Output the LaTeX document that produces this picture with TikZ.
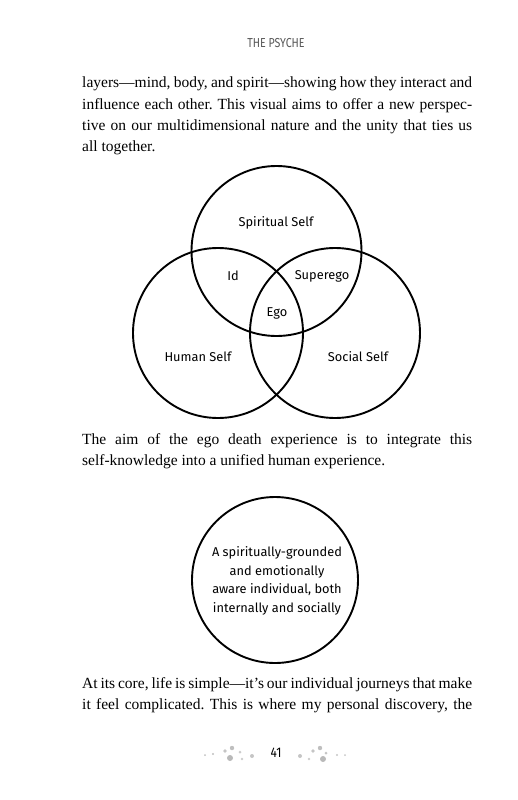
\documentclass[tikz,border=0pt]{standalone}
\usepackage{fontspec}
\setmainfont{Liberation Serif}
\newfontfamily\labfont{Fira Sans}
\frenchspacing
\begin{document}
\begin{tikzpicture}[x=1pt,y=-1pt,
  ring/.style={draw=black,line width=1.9pt},
  lab/.style={font=\labfont\fontsize{12.8}{15}\selectfont,inner sep=0pt},
  body/.style={font=\fontsize{15.5}{18}\selectfont,anchor=base west,inner sep=0pt}]
\useasboundingbox[fill=white] (0,0) rectangle (518,800);
\node[font=\labfont\fontsize{13}{15}\selectfont,text=black!65,inner sep=0pt] (hdr) at (276,43) {\scalebox{0.82}[1]{THE PSYCHE}};
% paragraph 1
\node[body] (p1a) at (82,88) {\makebox[390pt][s]{layers—mind, body, and spirit—showing how they interact and}};
\node[body] (p1b) at (82,109) {\makebox[390pt][s]{influence each other. This visual aims to offer a new perspec-}};
\node[body] (p1c) at (82,130) {\makebox[390pt][s]{tive on our multidimensional nature and the unity that ties us}};
\node[body] (p1d) at (82,151) {all together.};
% Venn
\node[ring,circle,minimum size=170pt,inner sep=0pt] (spirit) at (276.5,251) {};
\node[ring,circle,minimum size=170pt,inner sep=0pt] (human) at (218,333) {};
\node[ring,circle,minimum size=170pt,inner sep=0pt] (social) at (335,333) {};
\node[lab] (ls) at (276,223) {Spiritual Self};
\node[lab] (lid) at (233,276) {Id};
\node[lab] (lsup) at (322,276) {Superego};
\node[lab] (lego) at (277,313) {Ego};
\node[lab] (lh) at (198,357) {Human Self};
\node[lab] (lso) at (358,357) {Social Self};
% paragraph 2
\node[body] (p2a) at (82,444) {\makebox[390pt][s]{The aim of the ego death experience is to integrate this}};
\node[body] (p2b) at (82,465) {self-knowledge into a unified human experience.};
% single circle
\node[ring,circle,minimum size=166pt,inner sep=0pt] (whole) at (275,580) {};
\node[font=\labfont\fontsize{12.8}{18.5}\selectfont,align=center,inner sep=0pt] (wt) at (277,581) {A spiritually-grounded\\and emotionally\\aware individual, both\\internally and socially};
% paragraph 3
\node[body] (p3a) at (82,688) {\makebox[390pt][s]{At its core, life is simple—it’s our individual journeys that make}};
\node[body] (p3b) at (82,709) {\makebox[390pt][s]{it feel complicated. This is where my personal discovery, the}};
% page number and dots
\node[font=\labfont\fontsize{14}{16}\selectfont,inner sep=0pt] (pg) at (276,753) {\scalebox{0.85}[1]{41}};
\foreach \x/\y/\r/\o in {205/755/1/0.5, 213/754/1.2/0.5, 225/751/1.8/0.45, 232/748/2.2/0.5, 240/752/1.5/0.4, 230/758/3/0.55, 242/759/1.3/0.4, 252/756/2/0.45,
  300/756/2/0.45, 309/759/1.3/0.4, 313/751/1.8/0.45, 320/748/2.2/0.5, 326/753/1.5/0.45, 323/759/3/0.55, 337/755/1.2/0.45, 345/755/1/0.45}
  {\fill[gray,opacity=\o] (\x,\y) circle (\r);}
\end{tikzpicture}
\end{document}
